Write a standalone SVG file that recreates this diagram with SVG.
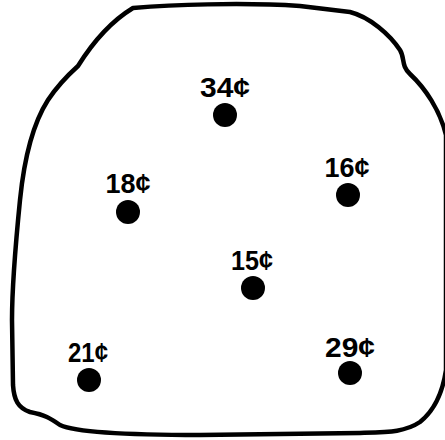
<svg xmlns="http://www.w3.org/2000/svg" width="445" height="440" viewBox="0 0 445 440">
<style>
.outline{fill:none;stroke:#000;stroke-width:4.5;stroke-linejoin:round;stroke-linecap:round}
.dot{fill:#000}
.lbl{font-family:"Liberation Sans",Arial,sans-serif;font-weight:bold;font-size:27px;fill:#000;text-anchor:middle}
</style>
<rect width="445" height="440" fill="#fff"/>
<path class="outline" d="M 133,8 C 170,5 240,2 300,6 L 350,12 C 370,17 390,35 400,50 C 405,58 401,66 410,74 C 425,88 440,110 446,135 L 446,370 C 443,390 435,410 420,422 C 405,432 390,432 360,433 L 200,435 C 120,435 75,432 60,425 C 50,418 45,415 30,412 C 18,408 14,400 13,385 L 12,320 C 12,280 16,240 20,200 C 24,160 32,125 48,100 C 58,85 68,75 78,66 C 88,50 105,25 133,8 Z"/>
<g id="n34"><text class="lbl" x="225" y="97" textLength="50" lengthAdjust="spacingAndGlyphs">34¢</text><circle class="dot" cx="225" cy="115" r="12"/></g>
<g id="n16"><text class="lbl" x="347" y="177" textLength="45" lengthAdjust="spacingAndGlyphs">16¢</text><circle class="dot" cx="348" cy="195" r="12"/></g>
<g id="n18"><text class="lbl" x="128" y="193" textLength="45" lengthAdjust="spacingAndGlyphs">18¢</text><circle class="dot" cx="128" cy="212" r="12"/></g>
<g id="n15"><text class="lbl" x="252" y="270" textLength="42" lengthAdjust="spacingAndGlyphs">15¢</text><circle class="dot" cx="253" cy="288" r="12"/></g>
<g id="n21"><text class="lbl" x="88" y="362" textLength="40" lengthAdjust="spacingAndGlyphs">21¢</text><circle class="dot" cx="89" cy="380" r="12"/></g>
<g id="n29"><text class="lbl" x="350" y="357" textLength="50" lengthAdjust="spacingAndGlyphs">29¢</text><circle class="dot" cx="350" cy="373" r="12"/></g>
</svg>
